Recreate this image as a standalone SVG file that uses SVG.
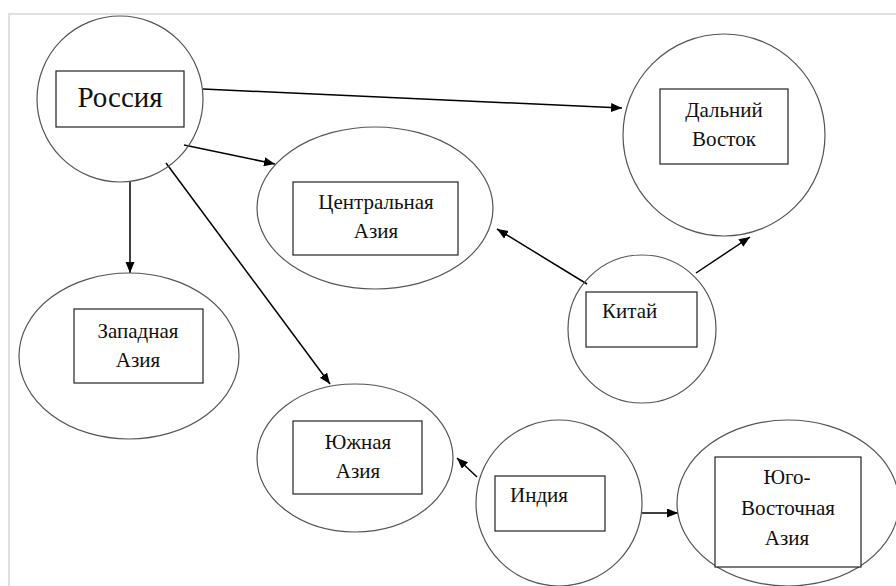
<svg xmlns="http://www.w3.org/2000/svg" width="896" height="586" viewBox="0 0 896 586">
<style>
.shape{fill:none;stroke:#555;stroke-width:1.2}
.box{fill:#fff;stroke:#222;stroke-width:1.2}
.t{font-family:'Liberation Serif','DejaVu Serif','Times New Roman',serif;font-size:21px;fill:#111}
.c{text-anchor:middle}
.conn line{stroke:#000;stroke-width:1.5;marker-end:url(#ah)}
</style>
<defs>
<marker id="ah" markerUnits="userSpaceOnUse" markerWidth="12" markerHeight="10" refX="11" refY="4.5" orient="auto">
<path d="M0,0 L11,4.5 L0,9 z" fill="#000"/>
</marker>
</defs>
<rect x="0" y="0" width="896" height="586" fill="#fff"/>
<path d="M9,586 V14 H896" fill="none" stroke="#e0e0e0" stroke-width="2"/>
<g class="conn">
<line x1="203" y1="89" x2="622" y2="108"/>
<line x1="184" y1="145" x2="275" y2="164"/>
<line x1="130" y1="182" x2="130" y2="273"/>
<line x1="166" y1="163" x2="330" y2="384"/>
<line x1="587" y1="284" x2="497" y2="229"/>
<line x1="696" y1="273" x2="750" y2="237"/>
<line x1="477" y1="477" x2="457" y2="458"/>
<line x1="642" y1="513" x2="678" y2="513"/>
</g>
<g id="russia">
<circle class="shape" cx="120" cy="99" r="83"/>
<rect class="box" x="56" y="71" width="128" height="56"/>
<text class="t c" x="120" y="107" style="font-size:29px">Россия</text>
</g>
<g id="far-east">
<circle class="shape" cx="724" cy="135" r="101"/>
<rect class="box" x="660" y="89" width="128" height="75"/>
<text class="t c" x="724" y="117">Дальний</text>
<text class="t c" x="724" y="146">Восток</text>
</g>
<g id="central-asia">
<ellipse class="shape" cx="375" cy="208" rx="118" ry="81"/>
<rect class="box" x="293" y="182" width="165" height="73"/>
<text class="t c" x="376" y="209">Центральная</text>
<text class="t c" x="376" y="238">Азия</text>
</g>
<g id="west-asia">
<ellipse class="shape" cx="129" cy="356" rx="110" ry="83"/>
<rect class="box" x="74" y="309" width="129" height="74"/>
<text class="t c" x="138" y="338">Западная</text>
<text class="t c" x="138" y="367">Азия</text>
</g>
<g id="china">
<circle class="shape" cx="642" cy="329" r="74"/>
<rect class="box" x="586" y="292" width="111" height="55"/>
<text class="t" x="602" y="318">Китай</text>
</g>
<g id="south-asia">
<ellipse class="shape" cx="355" cy="458" rx="98" ry="74"/>
<rect class="box" x="293" y="421" width="129" height="73"/>
<text class="t c" x="358" y="449">Южная</text>
<text class="t c" x="358" y="478">Азия</text>
</g>
<g id="india">
<circle class="shape" cx="559" cy="503" r="83"/>
<rect class="box" x="495" y="476" width="110" height="55"/>
<text class="t" x="510" y="502">Индия</text>
</g>
<g id="southeast-asia">
<ellipse class="shape" cx="788" cy="503" rx="111" ry="83"/>
<rect class="box" x="715" y="457" width="146" height="110"/>
<text class="t c" x="787" y="484">Юго-</text>
<text class="t c" x="788" y="515">Восточная</text>
<text class="t c" x="787" y="545">Азия</text>
</g>
</svg>
